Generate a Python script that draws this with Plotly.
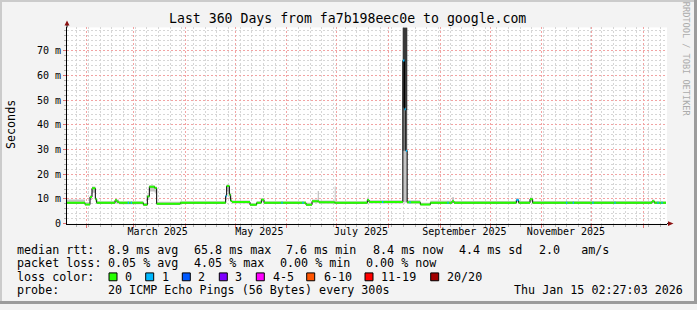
import pandas as pd
import plotly.graph_objects as go

W, H = 697, 310
END = pd.Timestamp('2026-01-15 02:27:03')
START = END - pd.Timedelta(days=360)

# ---------------- data ----------------
# piecewise-constant segments: start day (days after START), median rtt (ms),
# smoke low / high (ms), loss bucket index
seg_day = [0.0, 10.8, 13.8, 15.0, 17.0, 17.8, 28.8, 30.0, 31.2, 45.8,
           48.2, 49.4, 52.6, 53.8, 68.0, 95.2, 95.8, 97.4, 98.2, 99.0,
           109.8, 113.8, 116.6, 118.2, 143.4, 147.0, 150.4, 151.2, 160.6, 161.2,
           180.2, 181.2, 201.5, 202.5, 203.3, 204.1, 212.0, 218.0, 231.0, 232.2,
           269.6, 271.0, 277.8, 279.4, 351.0, 352.4]
seg_median = [8.4, 7.7, 10.8, 14.3, 9.9, 8.4, 9.4, 8.8, 8.4, 7.6,
              11.0, 14.9, 14.4, 8.0, 8.4, 11.2, 15.2, 11.7, 9.2, 8.7,
              7.6, 8.4, 9.7, 8.4, 7.6, 9.0, 9.0, 8.6, 8.4, 8.4,
              9.6, 8.7, 66.0, 46.3, 29.5, 8.6, 7.7, 8.4, 9.0, 8.4,
              9.5, 8.4, 9.9, 8.4, 9.0, 8.4]
seg_lo = [7.9, 7.4, 9.5, 12.5, 8.8, 7.9, 8.4, 8.0, 7.8, 7.3,
          9.5, 13.0, 12.5, 7.6, 7.9, 9.5, 13.0, 10.0, 8.6, 8.1,
          7.3, 7.9, 8.8, 7.9, 7.3, 8.4, 8.4, 8.0, 7.9, 7.9,
          8.8, 8.1, 8.5, 8.5, 8.5, 8.0, 7.4, 7.9, 8.4, 7.9,
          8.6, 7.9, 8.9, 7.9, 8.4, 7.9]
seg_hi = [9.8, 8.6, 11.5, 15.0, 10.5, 9.0, 10.0, 9.8, 9.0, 8.3,
          11.8, 15.5, 15.0, 8.8, 9.0, 12.0, 15.8, 12.5, 9.8, 9.3,
          8.2, 9.0, 10.4, 9.0, 8.4, 9.8, 13.2, 9.3, 15.0, 9.0,
          10.6, 9.4, 79.4, 79.4, 79.4, 9.4, 8.4, 9.2, 10.7, 9.1,
          10.4, 9.1, 10.6, 9.1, 9.8, 9.0]
seg_loss = [0, 0, 0, 0, 0, 0, 0, 0, 0, 0,
            0, 0, 0, 0, 0, 1, 0, 0, 0, 0,
            0, 0, 0, 0, 0, 0, 0, 0, 0, 0,
            0, 0, 1, 1, 1, 0, 0, 0, 0, 0,
            1, 0, 0, 0, 0, 0]
data_end_day = 359.4

# isolated days with 1 lost ping
loss1_days = [36.8, 38.6, 129.0, 141.6, 189.4, 205.8, 228.6, 299.8, 303.8,
              315.6, 328.8, 354.6, 357.0]

# dense smoke inside the big spike
spike_day = [201.5, 202.5, 203.3]
spike_end_day = 204.1
spike_grey_lo = [29.5, 29.5, 29.5]
spike_dark_lo = [47.0, 47.0, 46.0]
spike_top = [79.4, 79.4, 79.4]

loss_labels = ['0', '1', '2', '3', '4-5', '6-10', '11-19', '20/20']
loss_colors = ['#26ff00', '#00b8ff', '#0059ff', '#7e00ff', '#ff00ff',
               '#ff5500', '#ff0000', '#a10000']

y_tickvals = [0, 10, 20, 30, 40, 50, 60, 70]
y_ticktext = ['0', '10 m', '20 m', '30 m', '40 m', '50 m', '60 m', '70 m']
y_max = 79.4

month_label_dates = ['2025-03-15 12:00', '2025-05-15 12:00', '2025-07-15 12:00',
                     '2025-09-15 12:00', '2025-11-15 12:00']
month_label_text = ['March 2025', 'May 2025', 'July 2025', 'September 2025',
                    'November 2025']

title_text = 'Last 360 Days from fa7b198eec0e to google.com'
rtt_label = 'median rtt:'
rtt_stats = ['8.9 ms avg', '65.8 ms max', '7.6 ms min', '8.4 ms now',
             '4.4 ms sd', '2.0   am/s']
loss_label = 'packet loss:'
loss_stats = ['0.05 % avg', '4.05 % max', '0.00 % min', '0.00 % now']
probe_label = 'probe:'
probe_text = '20 ICMP Echo Pings (56 Bytes) every 300s'
stamp_text = 'Thu Jan 15 02:27:03 2026'

# ---------------- layout positions (pixels) ----------------
rtt_x = [107.3, 193.3, 285.0, 372.3, 458.3, 537.7]
loss_x = [107.3, 193.3, 279.3, 365.0]
box_x = [109.0, 145.7, 182.3, 219.3, 256.3, 306.7, 365.0, 430.7]
box_label_x = [124.0, 160.7, 197.3, 234.3, 271.7, 322.7, 380.0, 446.0]
row_y = [254.5, 268.3, 282.3, 295.7]
MONO = 'DejaVu Sans Mono'


def t(d):
    return START + pd.to_timedelta(d, unit='D')


def px(x, y):
    return x / W, 1 - y / H


def median_at(d):
    v = seg_median[0]
    for s, m in zip(seg_day, seg_median):
        if s <= d:
            v = m
    return v


bounds = seg_day + [data_end_day]
step_x = [t(d) for d in bounds]

fig = go.Figure()

# smoke (light)
fig.add_trace(go.Scatter(x=step_x, y=seg_lo + [seg_lo[-1]], mode='lines',
                         line=dict(width=0, shape='hv'), hoverinfo='skip', showlegend=False))
fig.add_trace(go.Scatter(x=step_x, y=seg_hi + [seg_hi[-1]], mode='lines',
                         line=dict(width=0, shape='hv'), fill='tonexty',
                         fillcolor='#C4C4C4', hoverinfo='skip', showlegend=False))
# smoke in spike
sp_x = [t(d) for d in spike_day + [spike_end_day]]
fig.add_trace(go.Scatter(x=sp_x, y=spike_grey_lo + [spike_grey_lo[-1]], mode='lines',
                         line=dict(width=0, shape='hv'), hoverinfo='skip', showlegend=False))
fig.add_trace(go.Scatter(x=sp_x, y=spike_top + [spike_top[-1]], mode='lines',
                         line=dict(width=0, shape='hv'), fill='tonexty',
                         fillcolor='#7A7A7A', hoverinfo='skip', showlegend=False))
fig.add_trace(go.Scatter(x=sp_x, y=spike_dark_lo + [spike_dark_lo[-1]], mode='lines',
                         line=dict(width=0, shape='hv'), hoverinfo='skip', showlegend=False))
fig.add_trace(go.Scatter(x=sp_x, y=spike_top + [spike_top[-1]], mode='lines',
                         line=dict(width=0, shape='hv'), fill='tonexty',
                         fillcolor='#383838', hoverinfo='skip', showlegend=False))

# median step line (black connectors)
fig.add_trace(go.Scatter(x=step_x, y=seg_median + [seg_median[-1]], mode='lines',
                         line=dict(width=1, color='#000000', shape='hv'),
                         hoverinfo='skip', showlegend=False))

# colored horizontal parts by loss
for li, col in enumerate(loss_colors):
    xs, ys = [], []
    for i, (m, lo) in enumerate(zip(seg_median, seg_loss)):
        if lo != li:
            continue
        xs += [t(bounds[i]), t(bounds[i + 1]), None]
        ys += [m, m, None]
    if xs:
        fig.add_trace(go.Scatter(x=xs, y=ys, mode='lines',
                                 line=dict(width=2, color=col),
                                 hoverinfo='skip', showlegend=False))

# isolated loss-1 marks
xs, ys = [], []
for d in loss1_days:
    m = median_at(d)
    xs += [t(d - 0.4), t(d + 0.4), None]
    ys += [m, m, None]
fig.add_trace(go.Scatter(x=xs, y=ys, mode='lines', xaxis='x2',
                         line=dict(width=2, color=loss_colors[1]),
                         hoverinfo='skip', showlegend=False))

month_starts = pd.date_range('2025-02-01', '2026-01-01', freq='MS')

fig.update_layout(
    width=W, height=H,
    margin=dict(l=0, r=0, t=0, b=0),
    paper_bgcolor='#F3F3F3', plot_bgcolor='#FFFFFF',
    showlegend=False,
    font=dict(family=MONO, color='#000000'),
    xaxis=dict(
        domain=[67 / W, 667 / W], range=[START, END], type='date',
        tickmode='array', tickvals=list(month_starts), showticklabels=False,
        showgrid=True, gridcolor='#F2A3A3', griddash='2px,2px', gridwidth=1,
        ticks='outside', ticklen=3, tickcolor='#E07070',
        minor=dict(tickmode='linear', tick0='2025-01-26', dtick=7 * 86400000,
                   showgrid=True, gridcolor='#D6D6D6', griddash='2px,2px',
                   ticks='outside', ticklen=2, tickcolor='#B0B0B0'),
        showline=True, linecolor='#000000', linewidth=1, zeroline=False,
        fixedrange=True),
    xaxis2=dict(
        overlaying='x', anchor='y', side='bottom', range=[START, END], type='date',
        tickmode='array', tickvals=[pd.Timestamp(d) for d in month_label_dates],
        ticktext=month_label_text, showgrid=False, ticks='', showline=False,
        zeroline=False, tickfont=dict(family=MONO, size=10, color='#000000'),
        fixedrange=True),
    yaxis=dict(
        domain=[82 / H, 282 / H], range=[0, y_max],
        tickmode='array', tickvals=y_tickvals, ticktext=y_ticktext,
        tickfont=dict(family=MONO, size=10, color='#000000'),
        showgrid=True, gridcolor='#F2A3A3', griddash='2px,2px', gridwidth=1,
        ticks='outside', ticklen=3, tickcolor='#E07070',
        minor=dict(tickmode='linear', tick0=0, dtick=2, showgrid=True,
                   gridcolor='#D6D6D6', griddash='2px,2px',
                   ticks='outside', ticklen=2, tickcolor='#B0B0B0'),
        showline=True, linecolor='#000000', linewidth=1, zeroline=False,
        fixedrange=True),
)

shapes = []
# frame shading
shapes.append(dict(type='rect', xref='paper', yref='paper', x0=0, x1=1,
                   y0=1 - 2 / H, y1=1, fillcolor='#CBCBCB', line=dict(width=0)))
shapes.append(dict(type='rect', xref='paper', yref='paper', x0=0, x1=2 / W,
                   y0=0, y1=1, fillcolor='#CBCBCB', line=dict(width=0)))
shapes.append(dict(type='rect', xref='paper', yref='paper', x0=1 - 3 / W, x1=1,
                   y0=0, y1=1, fillcolor='#9C9C9C', line=dict(width=0)))
shapes.append(dict(type='rect', xref='paper', yref='paper', x0=0, x1=1,
                   y0=0, y1=3 / H, fillcolor='#9C9C9C', line=dict(width=0)))

# axis extensions + arrows
ax0, ay0 = px(667, 228)
ax1, _ = px(669, 228)
shapes.append(dict(type='line', xref='paper', yref='paper', x0=ax0, x1=ax1,
                   y0=ay0, y1=ay0, line=dict(color='#000000', width=1)))
p1, p2, p3 = px(668, 225.5), px(673.5, 228), px(668, 230.5)
shapes.append(dict(type='path', xref='paper', yref='paper',
                   path=f'M {p1[0]} {p1[1]} L {p2[0]} {p2[1]} L {p3[0]} {p3[1]} Z',
                   fillcolor='#8B1010', line=dict(width=0)))
bx, by0 = px(67, 28)
_, by1 = px(67, 25)
shapes.append(dict(type='line', xref='paper', yref='paper', x0=bx, x1=bx,
                   y0=by0, y1=by1, line=dict(color='#000000', width=1)))
q1, q2, q3 = px(64.5, 26), px(67, 21), px(69.5, 26)
shapes.append(dict(type='path', xref='paper', yref='paper',
                   path=f'M {q1[0]} {q1[1]} L {q2[0]} {q2[1]} L {q3[0]} {q3[1]} Z',
                   fillcolor='#8B1010', line=dict(width=0)))

# loss color swatches
for bxp, col in zip(box_x, loss_colors):
    xa, ya = px(bxp, 278.3)
    xb, yb = px(bxp + 8, 286.3)
    shapes.append(dict(type='rect', xref='paper', yref='paper', x0=xa, x1=xb,
                       y0=yb, y1=ya, fillcolor=col,
                       line=dict(color='#000000', width=1)))
fig.update_layout(shapes=shapes)

ann = []


def text(x, y, s, size=11.7, xanchor='left', color='#000000', angle=0):
    xp, yp = px(x, y)
    ann.append(dict(x=xp, y=yp, xref='paper', yref='paper', text=s,
                    showarrow=False, xanchor=xanchor, yanchor='middle',
                    textangle=angle, borderpad=0,
                    font=dict(family=MONO, size=size, color=color)))


text(347.5, 19.0, title_text, size=13.2, xanchor='center')
text(10.5, 127, 'Seconds', size=11.7, xanchor='center', angle=-90)
text(686, 60, 'RRDTOOL / TOBI OETIKER', size=8.6, xanchor='center',
     color='#ABABAB', angle=90)

text(16, row_y[0], rtt_label)
for x, s in zip(rtt_x, rtt_stats):
    text(x, row_y[0], s.replace(' ', '&nbsp;'))
text(16, row_y[1], loss_label)
for x, s in zip(loss_x, loss_stats):
    text(x, row_y[1], s.replace(' ', '&nbsp;'))
text(16, row_y[2], 'loss color:')
for x, s in zip(box_label_x, loss_labels):
    text(x, row_y[2], s)
text(16, row_y[3], probe_label)
text(107.3, row_y[3], probe_text)
text(513.3, row_y[3], stamp_text)

fig.update_layout(annotations=ann)
fig.write_html('out.html')
